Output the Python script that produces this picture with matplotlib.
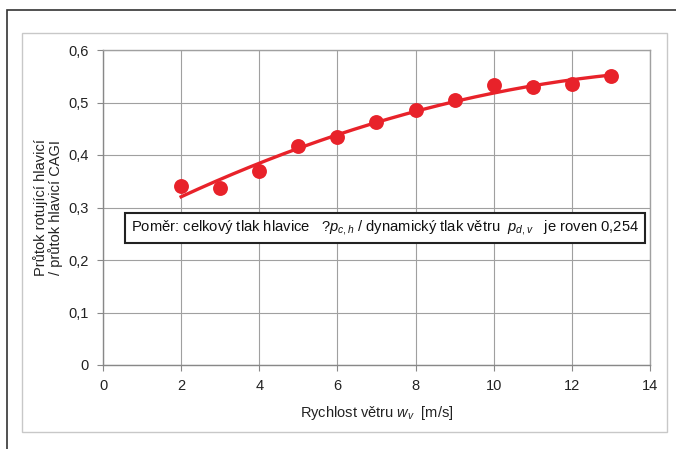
import matplotlib
matplotlib.use("Agg")
import matplotlib.pyplot as plt
import numpy as np
from matplotlib.patches import Rectangle

# Data
wind_speed = [2, 3, 4, 5, 6, 7, 8, 9, 10, 11, 12, 13]
flow_ratio = [0.341, 0.337, 0.370, 0.417, 0.434, 0.463, 0.486, 0.505, 0.533, 0.530, 0.535, 0.551]
x_ticks = [0, 2, 4, 6, 8, 10, 12, 14]
y_ticks = [0, 0.1, 0.2, 0.3, 0.4, 0.5, 0.6]
y_tick_labels = ["0", "0,1", "0,2", "0,3", "0,4", "0,5", "0,6"]

plt.rcParams['font.family'] = ['Liberation Sans', 'DejaVu Sans']
plt.rcParams['mathtext.fontset'] = 'custom'
plt.rcParams['mathtext.rm'] = 'Liberation Sans'
plt.rcParams['mathtext.it'] = 'Liberation Sans:italic'
plt.rcParams['mathtext.bf'] = 'Liberation Sans:bold'

fig = plt.figure(figsize=(6.76, 4.49), dpi=100)
fig.patch.set_facecolor('white')

# outer dark frame
fig.patches.append(Rectangle((7/676, -0.1), 1.2, 1 - 10/449 + 0.1, transform=fig.transFigure,
                             fill=False, edgecolor='#333333', linewidth=1.2, clip_on=False))
# inner light frame
fig.patches.append(Rectangle((22/676, 1 - 432/449), (667-22)/676, (432-33)/449, transform=fig.transFigure,
                             fill=False, edgecolor='#c8c8c8', linewidth=1.0))

ax = fig.add_axes([103/676, 1 - 365/449, (650-103)/676, (365-50)/449])

red = '#e8222a'
coef = np.polyfit(wind_speed, flow_ratio, 2)
xs = np.linspace(min(wind_speed), max(wind_speed), 200)
ax.plot(xs, np.polyval(coef, xs), color=red, linewidth=2.4, zorder=3)
ax.scatter(wind_speed, flow_ratio, s=115, color=red, zorder=4, linewidths=0)

ax.set_xlim(0, 14)
ax.set_ylim(0, 0.6)
ax.set_xticks(x_ticks)
ax.set_yticks(y_ticks)
ax.set_yticklabels(y_tick_labels)
ax.grid(True, color='#a0a0a0', linewidth=0.8)
ax.set_axisbelow(True)
for s in ax.spines.values():
    s.set_color('#a0a0a0')
    s.set_linewidth(1.0)
ax.spines['left'].set_color('#888888')
ax.spines['bottom'].set_color('#888888')
ax.tick_params(axis='both', colors='#888888', labelcolor='#222222', labelsize=10.5, length=4, width=0.8, pad=6)

ax.set_xlabel(r"Rychlost větru $\mathit{w}_{\mathit{v}}$  [m/s]", fontsize=10.5, color='#222222', labelpad=8)
ax.set_ylabel("Průtok rotující hlavicí\n/ průtok hlavicí CAGI", fontsize=10.5, color='#222222', labelpad=4,
              linespacing=1.05)

ax.text(7.22, 0.261,
        r"Poměr: celkový tlak hlavice   $\mathit{?p}_{\mathit{c,h}}$ / dynamický tlak větru  $\mathit{p}_{\mathit{d,v}}$   je roven 0,254",
        ha='center', va='center', fontsize=10.6, color='#111111', zorder=5,
        bbox=dict(boxstyle='square,pad=0.4', facecolor='white', edgecolor='#222222', linewidth=1.5))

fig.savefig("out.png", dpi=100)
